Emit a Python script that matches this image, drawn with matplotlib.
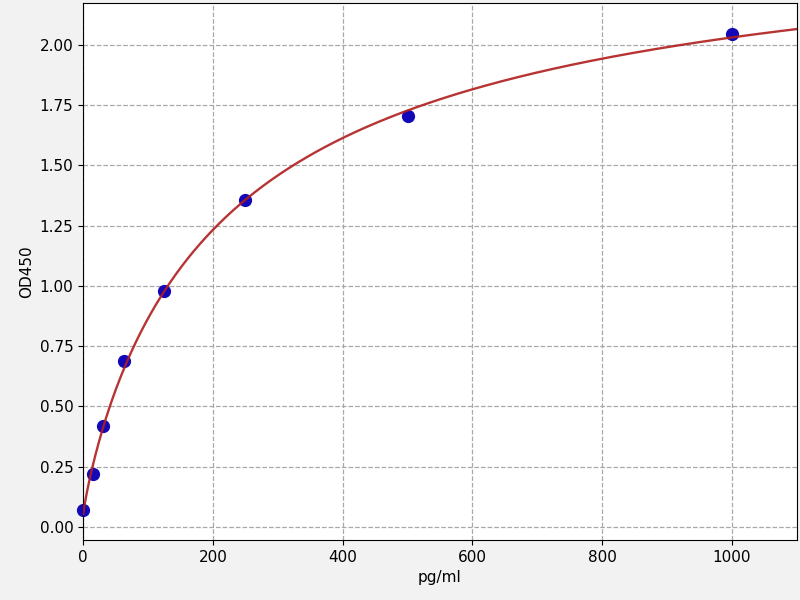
import numpy as np
import matplotlib
matplotlib.use("Agg")
import matplotlib.pyplot as plt

conc = [0, 15.6, 31.25, 62.5, 125, 250, 500, 1000]
od = [0.07, 0.22, 0.42, 0.69, 0.98, 1.355, 1.705, 2.045]

x = np.array(conc, dtype=float)
y = np.array(od, dtype=float)

# 4PL fit via grid search over b, c with linear solve for a, d
best = None
for b in np.linspace(0.4, 2.0, 161):
    for c in np.logspace(1.5, 4.5, 301):
        g = 1.0 / (1.0 + (x / c) ** b)
        A = np.vstack([g, 1 - g]).T
        coef, *_ = np.linalg.lstsq(A, y, rcond=None)
        r = np.sum((A @ coef - y) ** 2)
        if best is None or r < best[0]:
            best = (r, b, c, coef[0], coef[1])
_, b, c, a, d = best

xs = np.linspace(0, 1100, 600)
ys = d + (a - d) / (1.0 + (xs / c) ** b)

fig = plt.figure(figsize=(8, 6), dpi=100, facecolor="#f2f2f2")
ax = fig.add_axes([0.104, 0.1, 0.892, 0.895])
ax.set_facecolor("white")
ax.plot(x, y, "o", color="#1208b8", markersize=8.5, zorder=2, clip_on=False)
ax.plot(xs, ys, color="#b01e1e", linewidth=1.7, alpha=0.9, zorder=3)
ax.set_xlim(0, 1100)
ax.set_ylim(-0.054, 2.174)
ax.set_yticks(np.arange(0, 2.01, 0.25))
ax.yaxis.set_major_formatter(matplotlib.ticker.FormatStrFormatter("%.2f"))
ax.grid(True, linestyle="--", color="#a8a8a8", linewidth=0.9)
ax.set_axisbelow(True)
ax.set_xlabel("pg/ml", fontsize=11)
ax.set_ylabel("OD450", fontsize=11)
ax.tick_params(labelsize=11)
fig.savefig("out.png", dpi=100, facecolor=fig.get_facecolor())
